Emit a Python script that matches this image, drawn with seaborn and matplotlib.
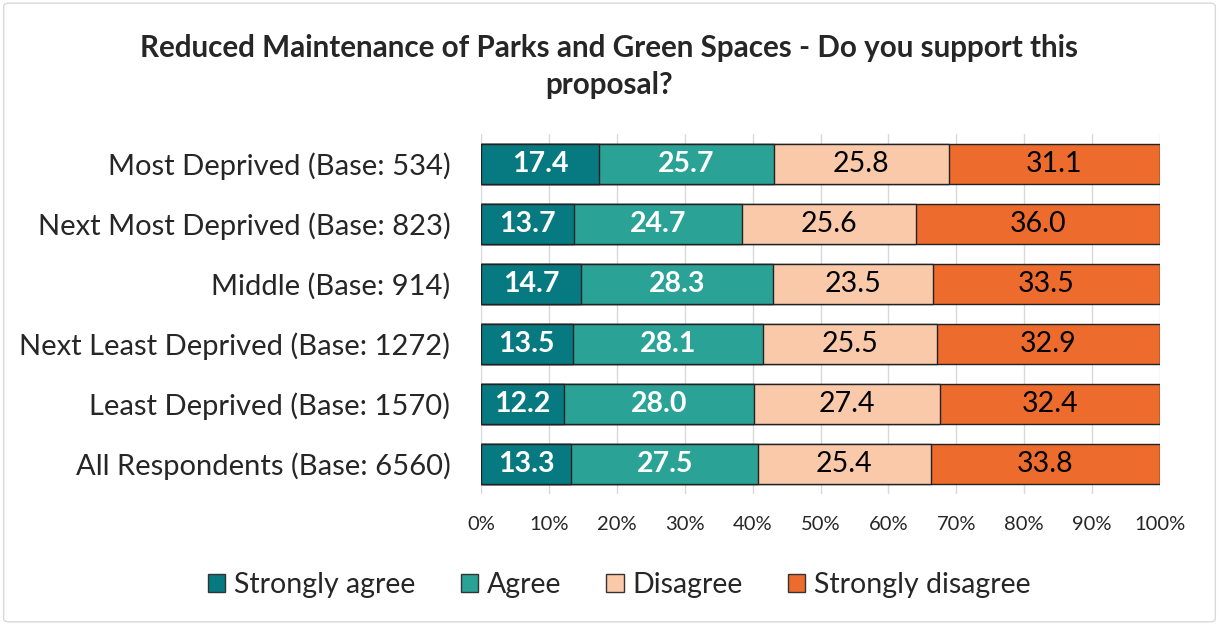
import numpy as np
import pandas as pd
import matplotlib.pyplot as plt
import seaborn as sns
from matplotlib.patches import Patch, FancyBboxPatch

categories = ["Most Deprived (Base: 534)", "Next Most Deprived (Base: 823)",
              "Middle (Base: 914)", "Next Least Deprived (Base: 1272)",
              "Least Deprived (Base: 1570)", "All Respondents (Base: 6560)"]
strongly_agree = [17.4, 13.7, 14.7, 13.5, 12.2, 13.3]
agree = [25.7, 24.7, 28.3, 28.1, 28.0, 27.5]
disagree = [25.8, 25.6, 23.5, 25.5, 27.4, 25.4]
strongly_disagree = [31.1, 36.0, 33.5, 32.9, 32.4, 33.8]

series = ["Strongly agree", "Agree", "Disagree", "Strongly disagree"]
colors = ["#067A80", "#2AA296", "#F9C9AA", "#EC6B2D"]
text_colors = ["white", "white", "black", "black"]
weights = ["bold", "bold", "normal", "normal"]

df = pd.DataFrame({"cat": categories, "Strongly agree": strongly_agree, "Agree": agree,
                   "Disagree": disagree, "Strongly disagree": strongly_disagree})
cum = df[series].cumsum(axis=1)

sns.set_style("white")
plt.rcParams["font.family"] = ["Lato", "DejaVu Sans"]

fig = plt.figure(figsize=(12.19, 6.25), dpi=100)
ax = fig.add_axes([0.3946, 0.2096, 0.557, 0.576])

# stacked bars: draw cumulative totals from largest to smallest
for i in range(len(series) - 1, -1, -1):
    sns.barplot(x=cum[series[i]], y=df["cat"], color=colors[i], orient="h", saturation=1,
                width=0.67, edgecolor="#222222", linewidth=1, ax=ax, zorder=3)

for j in range(len(categories)):
    start = 0
    for i, s in enumerate(series):
        v = df[s][j]
        ax.text(start + v / 2, j, f"{v:.1f}", ha="center", va="center",
                color=text_colors[i], fontweight=weights[i], fontsize=20.5, zorder=4)
        start += v

ax.set_xlim(0, 100)
ax.set_ylim(len(categories) - 0.5, -0.5)
ax.set_xticks(np.arange(0, 101, 10))
ax.set_xticklabels([f"{t}%" for t in range(0, 101, 10)], fontsize=14.5)
ax.tick_params(axis="x", length=6, color="#d9d9d9", pad=10)
ax.tick_params(axis="y", labelsize=21, length=0, pad=22)
ax.grid(axis="x", color="#d9d9d9", linewidth=1, zorder=0)
ax.set_xlabel("")
ax.set_ylabel("")
for sp in ax.spines.values():
    sp.set_visible(False)

fig.text(0.5, 0.893, "Reduced Maintenance of Parks and Green Spaces - Do you support this\nproposal?",
         ha="center", va="center", fontsize=21.3, fontweight="bold", linespacing=1.4)

handles = [Patch(facecolor=c, edgecolor="#333333", label=s) for s, c in zip(series, colors)]
fig.legend(handles=handles, loc="center", bbox_to_anchor=(0.508, 0.064), ncol=4, frameon=False,
           fontsize=20.5, handlelength=0.6, handleheight=0.6, handletextpad=0.3, columnspacing=1.6)

fig.patches.append(FancyBboxPatch((0.003, 0.005), 0.994, 0.99, boxstyle="round,pad=0,rounding_size=0.005",
                                  transform=fig.transFigure, facecolor="none", edgecolor="#d9d9d9", linewidth=1))

fig.savefig("out.png", dpi=100)
